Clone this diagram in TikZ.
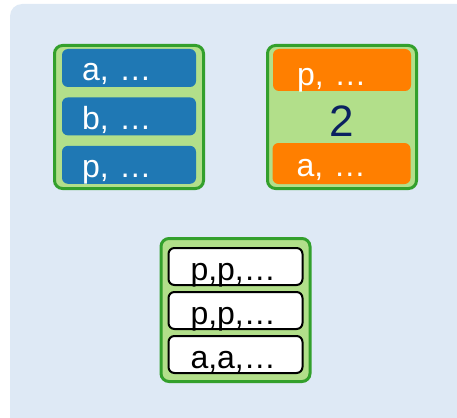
\documentclass[tikz,border=0pt]{standalone}
\usepackage{fontspec}
\setmainfont{Liberation Sans}
\usetikzlibrary{positioning}
\definecolor{panelblue}{HTML}{DEE9F5}
\definecolor{grpfill}{HTML}{B2DF8A}
\definecolor{grpline}{HTML}{33A02C}
\definecolor{keyblue}{HTML}{1F78B4}
\definecolor{keyorange}{HTML}{FF7F00}
\definecolor{countnavy}{HTML}{0B2160}
\tikzset{
  group/.style={draw=grpline, line width=3pt, fill=grpfill, rounded corners=8pt, minimum width=149pt, minimum height=143pt},
  keybox/.style={rounded corners=6pt, inner ysep=0pt, align=left, font=\fontsize{32}{32}\selectfont},
  bluekey/.style={keybox, fill=keyblue, text=white, inner xsep=20pt, text width=94pt, text height=32pt, text depth=6pt},
  orangekey/.style={keybox, fill=keyorange, text=white, inner xsep=24pt, text width=90pt},
  runbox/.style={keybox, draw=black, line width=2pt, fill=white, inner xsep=22pt, text width=90pt, text height=32pt, text depth=5pt}
}

\begin{document}
\begin{tikzpicture}[x=1pt, y=-1pt]
  \useasboundingbox (0,0) rectangle (457,417);
  \fill[panelblue, rounded corners=12pt] (10,4) rectangle (480,440);

  % three groups
  \node[group] (lhs) at (129,117) {};
  \node[group] (rhs) at (342,117) {};
  \node[group] (runs) at (235.5,310) {};

  % blue keys
  \node[bluekey] (a1) at (129,68) {a, \ldots};
  \node[bluekey, below=10pt of a1] (a2) {b, \ldots};
  \node[bluekey, below=10pt of a2] (a3) {p, \ldots};

  % orange keys and their count
  \node[orangekey, text height=36pt, text depth=6pt] (b1) at (342,70) {p, \ldots};
  \node[orangekey, text height=33pt, text depth=8pt] (b2) at (341.5,163.5) {a, \ldots};
  \node[anchor=base, inner sep=0pt, text=countnavy, font=\fontsize{44}{44}\selectfont] (count) at (342,136) {2};

  % merged runs
  \node[runbox] (c1) at (235.5,266.5) {p,p,\ldots};
  \node[runbox, below=5pt of c1] (c2) {p,p,\ldots};
  \node[runbox, below=5pt of c2] (c3) {a,a,\ldots};
\end{tikzpicture}
\end{document}
